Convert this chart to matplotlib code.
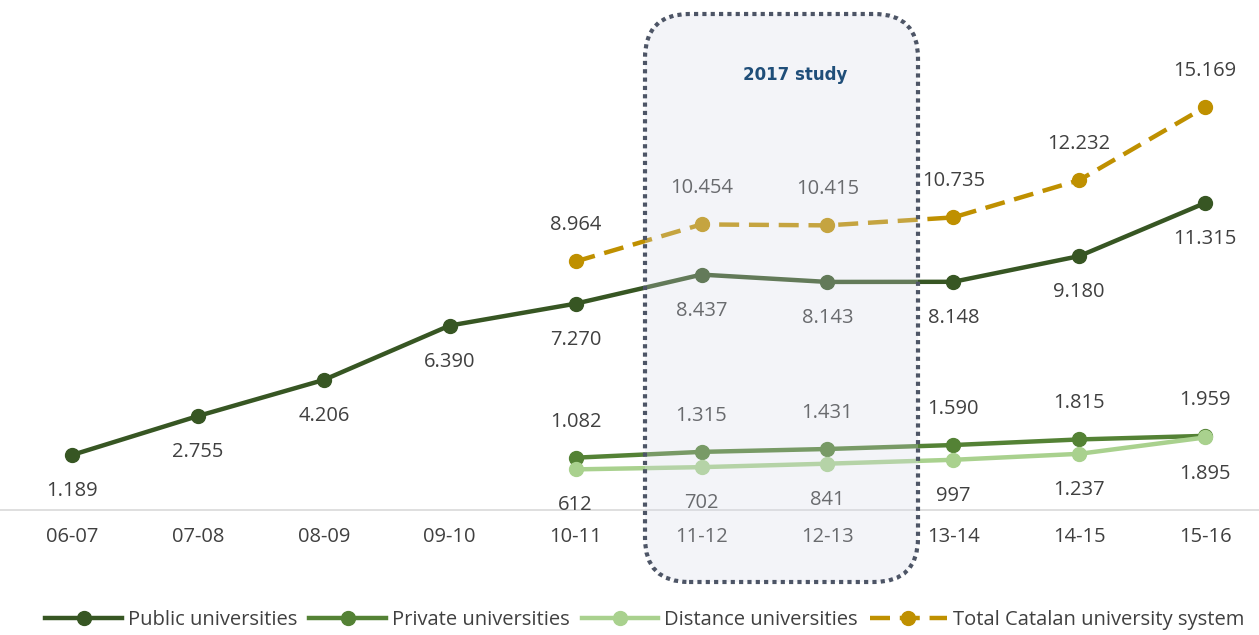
import matplotlib.pyplot as plt
from matplotlib.patches import FancyBboxPatch

plt.rcParams['font.family'] = ['Open Sans', 'DejaVu Sans']

# data (students, thousands separator "." in labels)
years = ["06-07", "07-08", "08-09", "09-10", "10-11", "11-12", "12-13", "13-14", "14-15", "15-16"]
public = [1189, 2755, 4206, 6390, 7270, 8437, 8143, 8148, 9180, 11315]
private_years = ["10-11", "11-12", "12-13", "13-14", "14-15", "15-16"]
private = [1082, 1315, 1431, 1590, 1815, 1959]
distance = [612, 702, 841, 997, 1237, 1895]
total = [8964, 10454, 10415, 10735, 12232, 15169]

c_public = "#375623"
c_private = "#548235"
c_distance = "#A9D18E"
c_total = "#BF9000"
txt = "#404040"
fs = 14.5


def fmt(v):
    return f"{v:,}".replace(",", ".")


fig = plt.figure(figsize=(12.59, 6.35), dpi=100)
ax = fig.add_axes([0, 1 - 510 / 635, 1, 510 / 635])

xi = list(range(len(years)))
xp = [years.index(y) for y in private_years]

ax.plot(xi, public, color=c_public, lw=3.2, marker="o", ms=10, label="Public universities", zorder=3)
ax.plot(xp, private, color=c_private, lw=3.2, marker="o", ms=10, label="Private universities", zorder=3)
ax.plot(xp, distance, color=c_distance, lw=3.2, marker="o", ms=10, label="Distance universities", zorder=3)
ax.plot(xp, total, color=c_total, lw=3.2, ls=(0, (4.5, 2.2)), marker="o", ms=10,
        label="Total Catalan university system", zorder=3)

off = 26
for x, v in zip(xi, public):
    ax.annotate(fmt(v), (x, v), xytext=(0, -off), textcoords="offset points",
                ha="center", va="center", fontsize=fs, color=txt, zorder=4)
for x, v in zip(xp, private):
    ax.annotate(fmt(v), (x, v), xytext=(0, off), textcoords="offset points",
                ha="center", va="center", fontsize=fs, color=txt, zorder=4)
for x, v in zip(xp, distance):
    ax.annotate(fmt(v), (x, v), xytext=(0, -off), textcoords="offset points",
                ha="center", va="center", fontsize=fs, color=txt, zorder=4)
for x, v in zip(xp, total):
    ax.annotate(fmt(v), (x, v), xytext=(0, off), textcoords="offset points",
                ha="center", va="center", fontsize=fs, color=txt, zorder=4)

ax.set_xlim(-0.572, 9.428)
ax.set_ylim(-1020, 19470)
ax.set_xticks(xi)
ax.set_xticklabels(years, fontsize=fs, color=txt)
ax.tick_params(axis="x", length=0, pad=12)
ax.set_yticks([])
for s in ["top", "left", "right"]:
    ax.spines[s].set_visible(False)
ax.spines["bottom"].set_color("#D9D9D9")
ax.spines["bottom"].set_linewidth(1.2)

# highlight box for the 2017 study
W, H = 1259, 635
box = FancyBboxPatch((645 / W, 1 - 582 / H), 273 / W, 568 / H,
                     boxstyle="round,pad=0,rounding_size=0.035",
                     transform=fig.transFigure, mutation_aspect=W / H,
                     facecolor=(0.84, 0.86, 0.91, 0.28), edgecolor="#4D5566",
                     lw=3, ls=(0, (1, 1)), zorder=10)
fig.patches.append(box)
fig.text(795 / W, 1 - 75 / H, "2017 study", ha="center", va="center",
         fontsize=12, fontweight="bold", color="#1F4E79", family="DejaVu Sans", zorder=11)

ax.legend(loc="center", bbox_to_anchor=(0.512, (1 - 620 / H - (1 - 510 / 635)) / (510 / 635)),
          ncol=4, frameon=False, fontsize=fs, handlelength=3.8, columnspacing=0.6,
          handletextpad=0.3, labelcolor=txt)

fig.savefig("out.png", dpi=100)
